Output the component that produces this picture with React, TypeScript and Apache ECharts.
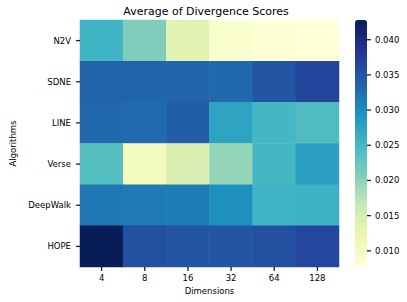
import React, { useEffect, useRef } from "react";
import * as echarts from "echarts";

const dimensions = ["4", "8", "16", "32", "64", "128"];
const algorithms = ["N2V", "SDNE", "LINE", "Verse", "DeepWalk", "HOPE"];
const n2v = [0.0255, 0.0208, 0.0132, 0.009, 0.0079, 0.0078];
const sdne = [0.0335, 0.0335, 0.0335, 0.0332, 0.035, 0.0366];
const line = [0.0332, 0.033, 0.034, 0.0275, 0.025, 0.0241];
const verse = [0.0238, 0.0108, 0.0143, 0.0196, 0.025, 0.028];
const deepwalk = [0.0318, 0.0315, 0.0314, 0.0297, 0.0255, 0.0257];
const hope = [0.0428, 0.0356, 0.035, 0.035, 0.0355, 0.0365];
const rows = [n2v, sdne, line, verse, deepwalk, hope];
const colorbarTicks = [0.01, 0.015, 0.02, 0.025, 0.03, 0.035, 0.04];
const titleText = "Average of Divergence Scores";
const vMin = 0.0077;
const vMax = 0.0428;

const palette = ["#ffffd9", "#edf8b1", "#c7e9b4", "#7fcdbb", "#41b6c4", "#1d91c0", "#225ea8", "#253494", "#081d58"];

export default function App() {
  const ref = useRef<HTMLDivElement>(null);
  useEffect(() => {
    const chart = echarts.init(ref.current!, null, { renderer: "svg" });
    const data: [number, number, number][] = [];
    rows.forEach((r, yi) => r.forEach((v, xi) => data.push([xi, yi, v])));
    const font = "DejaVu Sans";
    const tickStroke = { stroke: "#222222", lineWidth: 1.3, fill: "none" };
    const TL = 4;
    chart.setOption({
      animation: false,
      backgroundColor: "#fff",
      graphic: [
        {
          type: "text",
          x: 206,
          y: 11,
          silent: true,
          style: {
            text: titleText,
            fontFamily: font,
            fontSize: 11,
            fill: "#000",
            align: "center",
            verticalAlign: "middle",
          },
        },
      ],
      grid: [
        { left: 73, top: 20, width: 266, height: 247 },
        { left: 355, top: 20, width: 12, height: 247 },
      ],
      xAxis: [
        {
          type: "category",
          data: dimensions,
          gridIndex: 0,
          name: "Dimensions",
          nameLocation: "middle",
          nameGap: 18,
          nameTextStyle: { fontFamily: font, fontSize: 8.5, color: "#000" },
          axisLine: { show: false },
          axisTick: { show: false },
          axisLabel: { fontFamily: font, fontSize: 8.5, color: "#000", margin: 6 },
          splitLine: { show: false },
        },
        { type: "value", gridIndex: 1, show: false, min: 0, max: 1 },
      ],
      yAxis: [
        {
          type: "category",
          data: algorithms,
          inverse: true,
          gridIndex: 0,
          name: "Algorithms",
          nameLocation: "middle",
          nameGap: 63,
          nameRotate: 90,
          nameTextStyle: { fontFamily: font, fontSize: 8.5, color: "#000" },
          axisLine: { show: false },
          axisTick: { show: false },
          axisLabel: { fontFamily: font, fontSize: 8.5, color: "#000", margin: 9 },
          splitLine: { show: false },
        },
        {
          type: "value",
          gridIndex: 1,
          position: "right",
          min: vMin,
          max: vMax,
          axisLine: { show: false },
          axisTick: { show: false },
          axisLabel: {
            fontFamily: font,
            fontSize: 8.5,
            color: "#000",
            margin: 8,
            customValues: colorbarTicks,
            formatter: (v: number) => v.toFixed(3),
          },
          splitLine: { show: false },
        },
      ],
      visualMap: {
        type: "continuous",
        min: vMin,
        max: vMax,
        show: true,
        seriesIndex: 0,
        calculable: false,
        hoverLink: false,
        left: 355,
        top: 20,
        itemWidth: 12,
        itemHeight: 247,
        padding: 0,
        text: ["", ""],
        showLabel: false,
        inRange: { color: palette },
      },
      series: [
        {
          type: "heatmap",
          xAxisIndex: 0,
          yAxisIndex: 0,
          data,
          itemStyle: { borderWidth: 0 },
          emphasis: { disabled: true },
        },
        {
          type: "custom",
          xAxisIndex: 0,
          yAxisIndex: 0,
          clip: false,
          silent: true,
          z: 10,
          data: dimensions.map((_, i) => [i, 0]),
          renderItem: (params: any, api: any) => {
            const cs = params.coordSys;
            const p = api.coord([api.value(0), api.value(1)]);
            const y0 = cs.y + cs.height;
            return { type: "line", shape: { x1: p[0], y1: y0, x2: p[0], y2: y0 + TL }, style: tickStroke };
          },
        },
        {
          type: "custom",
          xAxisIndex: 0,
          yAxisIndex: 0,
          clip: false,
          silent: true,
          z: 10,
          data: algorithms.map((_, i) => [0, i]),
          renderItem: (params: any, api: any) => {
            const cs = params.coordSys;
            const p = api.coord([api.value(0), api.value(1)]);
            return { type: "line", shape: { x1: cs.x - TL, y1: p[1], x2: cs.x, y2: p[1] }, style: tickStroke };
          },
        },
        {
          type: "custom",
          xAxisIndex: 1,
          yAxisIndex: 1,
          clip: false,
          silent: true,
          z: 10,
          data: colorbarTicks.map((v) => [1, v]),
          renderItem: (params: any, api: any) => {
            const p = api.coord([api.value(0), api.value(1)]);
            return { type: "line", shape: { x1: p[0], y1: p[1], x2: p[0] + TL, y2: p[1] }, style: tickStroke };
          },
        },
      ],
    });
    return () => chart.dispose();
  }, []);
  return <div ref={ref} style={{ position: "absolute", left: 0, top: 0, width: 407, height: 302 }} />;
}
